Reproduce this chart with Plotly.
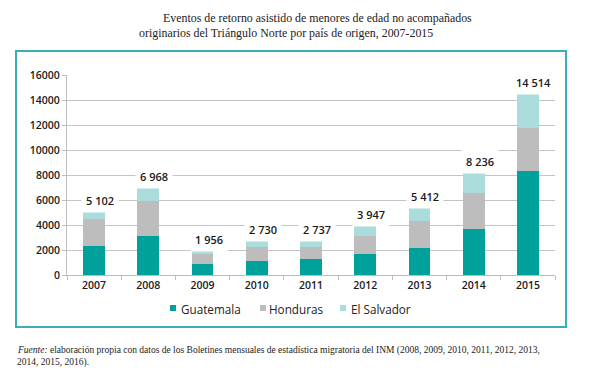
import plotly.graph_objects as go

years = ["2007", "2008", "2009", "2010", "2011", "2012", "2013", "2014", "2015"]
guatemala = [2350, 3120, 880, 1120, 1280, 1650, 2160, 3680, 8290]
honduras = [2110, 2800, 800, 1120, 960, 1470, 2160, 2850, 3500]
el_salvador = [642, 1048, 276, 490, 497, 827, 1092, 1706, 2724]
totals = [5102, 6968, 1956, 2730, 2737, 3947, 5412, 8236, 14514]
total_labels = ["5 102", "6 968", "1 956", "2 730", "2 737", "3 947", "5 412", "8 236", "14 514"]
y_ticks = [0, 2000, 4000, 6000, 8000, 10000, 12000, 14000, 16000]
series_names = ["Guatemala", "Honduras", "El Salvador"]

C_GUA = "#00a19b"
C_HON = "#bdbdbd"
C_SAL = "#a9dcda"
colors = [C_GUA, C_HON, C_SAL]
C_BORDER = "#3aaeb5"
SANS = "Open Sans, Lato, sans-serif"
SERIF = "Liberation Serif, DejaVu Serif, serif"

W, H = 605, 374
L, R, T, B = 67, 50, 75, 99
pw, ph = W - L - R, H - T - B
def px(x):
    return (x - L) / pw
def py(y):
    return (H - B - y) / ph

fig = go.Figure()
for name, vals, col in zip(series_names, [guatemala, honduras, el_salvador], colors):
    fig.add_trace(go.Bar(x=years, y=vals, name=name, marker=dict(color=col, line=dict(width=0)),
                         width=0.4, showlegend=False))

for i, (tot, lab) in enumerate(zip(totals, total_labels)):
    fig.add_annotation(x=i, y=tot, text=lab, showarrow=False, xref="x", yref="y",
                       yanchor="middle", yshift=11, xshift=6, bgcolor="white", borderpad=4,
                       font=dict(family=SANS, size=11, color="#1a1a1a", weight=600))

# titles
fig.add_annotation(x=px(161), y=py(18), xref="paper", yref="paper", xanchor="left", yanchor="middle",
                   text="Eventos de retorno asistido de menores de edad no acompañados",
                   showarrow=False, font=dict(family=SERIF, size=11.9, color="#222"))
fig.add_annotation(x=px(137), y=py(33), xref="paper", yref="paper", xanchor="left", yanchor="middle",
                   text="originarios del Triángulo Norte por país de origen, 2007-2015",
                   showarrow=False, font=dict(family=SERIF, size=11.9, color="#222"))
# source note
fig.add_annotation(x=px(15), y=py(350), xref="paper", yref="paper", xanchor="left", yanchor="middle",
                   text="<i>Fuente:</i> elaboración propia con datos de los Boletines mensuales de estadística migratoria del INM (2008, 2009, 2010, 2011, 2012, 2013,",
                   showarrow=False, font=dict(family=SERIF, size=9.5, color="#222"))
fig.add_annotation(x=px(15), y=py(362), xref="paper", yref="paper", xanchor="left", yanchor="middle",
                   text="2014, 2015, 2016).",
                   showarrow=False, font=dict(family=SERIF, size=9.5, color="#222"))

# legend (manual, small swatches next to text)
leg_sq_x = [170, 260, 340]
leg_txt_x = [179, 267, 349]
leg_y = 309
for name, col, sx, tx in zip(series_names, colors, leg_sq_x, leg_txt_x):
    fig.add_shape(type="rect", xref="paper", yref="paper", x0=px(sx), x1=px(sx + 6),
                  y0=py(leg_y - 4), y1=py(leg_y + 2), line=dict(width=0), fillcolor=col)
    fig.add_annotation(x=px(tx), y=py(leg_y), xref="paper", yref="paper", xanchor="left", yanchor="middle",
                       text=name, showarrow=False, font=dict(family=SANS, size=11.7, color="#222"))

fig.add_shape(type="rect", xref="paper", yref="paper", x0=px(16), x1=px(566), y0=py(51), y1=py(327),
              line=dict(color=C_BORDER, width=2), fillcolor="rgba(0,0,0,0)", layer="below")

fig.update_layout(
    width=W, height=H, margin=dict(l=L, r=R, t=T, b=B, autoexpand=False),
    paper_bgcolor="white", plot_bgcolor="white", barmode="stack", showlegend=False,
    xaxis=dict(type="category", range=[-0.5, 8.5], showline=True, linecolor="#bdbdbd", ticks="outside",
               tickson="boundaries", ticklen=4,
               tickcolor="#bdbdbd", tickfont=dict(family=SANS, size=10.5, color="#1a1a1a", weight=600), showgrid=False),
    yaxis=dict(range=[0, 16000], tickvals=y_ticks, ticktext=[str(v) for v in y_ticks], showline=True,
               linecolor="#bdbdbd", ticks="outside", ticklen=4, tickcolor="#bdbdbd", gridcolor="#c4c4c4",
               gridwidth=1, tickfont=dict(family=SANS, size=10.5, color="#1a1a1a", weight=600), zeroline=False),
)
fig.write_html("out.html", config={"displayModeBar": False},
               post_script="document.body.style.margin='0px';document.body.style.padding='0px';")
